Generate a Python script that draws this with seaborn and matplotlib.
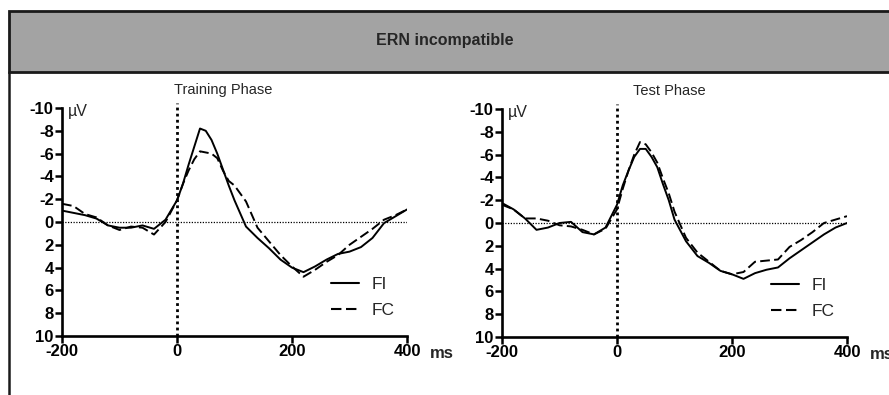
import numpy as np
import pandas as pd
import seaborn as sns
import matplotlib
matplotlib.use('Agg')
import matplotlib.pyplot as plt
from matplotlib.lines import Line2D
from matplotlib.patches import Rectangle

sns.set_style('white')
plt.rcParams['font.family'] = ['Liberation Sans', 'DejaVu Sans']

##################################################################
# data (ms, microvolts; negative is up)
##################################################################
ms = [-200, -180, -160, -140, -120, -100, -80, -60, -40, -20, 0, 10, 20, 30, 40, 50,
      60, 70, 80, 90, 100, 120, 140, 160, 180, 200, 220, 240, 260, 280, 300, 320,
      340, 360, 380, 400]

train_fi = [-1.0, -0.8, -0.6, -0.3, 0.3, 0.5, 0.5, 0.3, 0.6, -0.2, -1.9, -3.3, -5.0,
            -6.6, -8.2, -8.0, -7.2, -6.0, -4.6, -3.2, -1.9, 0.4, 1.4, 2.3, 3.3, 4.0,
            4.4, 3.9, 3.3, 2.8, 2.6, 2.2, 1.4, 0.1, -0.5, -1.1]
train_fc = [-1.6, -1.4, -0.7, -0.4, 0.3, 0.7, 0.4, 0.5, 1.1, 0.0, -1.9, -3.3, -4.5,
            -5.5, -6.2, -6.1, -6.0, -5.6, -4.5, -3.6, -3.2, -1.8, 0.5, 1.7, 2.9, 3.9,
            4.8, 4.2, 3.5, 2.9, 2.0, 1.3, 0.6, -0.2, -0.6, -1.1]
test_fi = [-1.75, -1.2, -0.4, 0.6, 0.4, 0.0, -0.1, 0.8, 1.0, 0.4, -1.6, -3.3, -4.6,
           -5.8, -6.5, -6.5, -5.8, -4.9, -3.4, -2.0, -0.3, 1.6, 2.9, 3.5, 4.2, 4.5,
           4.9, 4.4, 4.1, 3.9, 3.1, 2.4, 1.7, 1.0, 0.4, 0.0]
test_fc = [-1.6, -1.2, -0.4, -0.4, -0.2, 0.2, 0.3, 0.6, 1.0, 0.5, -1.2, -3.0, -4.6,
           -6.0, -7.1, -6.9, -6.2, -5.3, -3.9, -2.6, -1.0, 1.3, 2.6, 3.4, 4.2, 4.5,
           4.3, 3.4, 3.3, 3.2, 2.1, 1.5, 0.8, 0.0, -0.3, -0.6]

phases = ['Training Phase', 'Test Phase']
conditions = ['FI', 'FC']
series = {('Training Phase', 'FI'): train_fi, ('Training Phase', 'FC'): train_fc,
          ('Test Phase', 'FI'): test_fi, ('Test Phase', 'FC'): test_fc}

rows = []
for (ph, cond), vals in series.items():
    for t, v in zip(ms, vals):
        rows.append({'phase': ph, 'cond': cond, 'ms': t, 'uV': v})
df = pd.DataFrame(rows)

yticks = list(range(-10, 11, 2))
xticks = [-200, 0, 200, 400]
dashes = {'FI': '', 'FC': (5, 2.2)}

##################################################################
fig = plt.figure(figsize=(8.89, 3.95), dpi=100)
fig.patch.set_facecolor('white')

# grey header band
x0 = 9 / 889.
fig.patches.append(Rectangle((x0, 1 - 72 / 395.), 1.05 - x0, 61 / 395., transform=fig.transFigure,
                             facecolor='#a3a3a3', edgecolor='#1a1a1a', linewidth=2.0, zorder=0))
fig.lines.append(Line2D([x0, x0], [0, 1 - 72 / 395.], transform=fig.transFigure, color='#1a1a1a', lw=1.8))
fig.text(445 / 889., 1 - 41 / 395., 'ERN incompatible', ha='center', va='center',
         fontsize=11.5, fontweight='bold')

positions = [[62 / 889., 59 / 395., 345 / 889., 228 / 395.],
             [502 / 889., 58 / 395., 345 / 889., 228 / 395.]]
title_x = [0.467, 0.484]

for p, ph in enumerate(phases):
    ax = fig.add_axes(positions[p])
    sub = df[df['phase'] == ph]
    sns.lineplot(data=sub, x='ms', y='uV', style='cond', style_order=conditions, dashes=dashes,
                 color='black', linewidth=1.4, ax=ax, legend=False)
    ax.axhline(0, color='black', lw=0.9, ls=(0, (1, 1.2)), zorder=1)
    ax.plot([0, 0], [10, -10.4], color='black', lw=2.0, ls=(0, (1, 1.2)), clip_on=False)

    ax.set_xlim(-200, 400)
    ax.set_ylim(10, -10)
    ax.set_xticks(xticks)
    ax.set_xticklabels([str(v) for v in xticks], fontweight='bold', fontsize=12)
    ax.set_yticks(yticks)
    ax.set_yticklabels([str(v) for v in yticks], fontweight='bold', fontsize=12)
    ax.tick_params(direction='out', length=5, width=1.8, pad=1, colors='black', left=True, bottom=True)
    for s in ['top', 'right']:
        ax.spines[s].set_visible(False)
    for s in ['left', 'bottom']:
        ax.spines[s].set_linewidth(1.9)
        ax.spines[s].set_color('black')
    ax.set_xlabel('')
    ax.set_ylabel('')
    ax.patch.set_alpha(0)

    ax.text(title_x[p], 1.08, ph, transform=ax.transAxes, ha='center', va='center', fontsize=10.5)
    ax.text(0.017, 0.985, '\u00b5V', transform=ax.transAxes, ha='left', va='center', fontsize=11.5)
    ax.text(1.065, -0.075, 'ms', transform=ax.transAxes, ha='left', va='center', fontsize=12,
            fontweight='bold', clip_on=False)

    handles = [Line2D([], [], color='black', lw=1.5, ls='-'),
               Line2D([], [], color='black', lw=1.5, ls=(0, (5, 2.2)))]
    ax.legend(handles, conditions, loc='center left', bbox_to_anchor=(0.735, 0.17), frameon=False,
              fontsize=12.5, handlelength=1.6, handletextpad=0.75, labelspacing=0.6)

plt.savefig('out.png', dpi=100, facecolor='white')
